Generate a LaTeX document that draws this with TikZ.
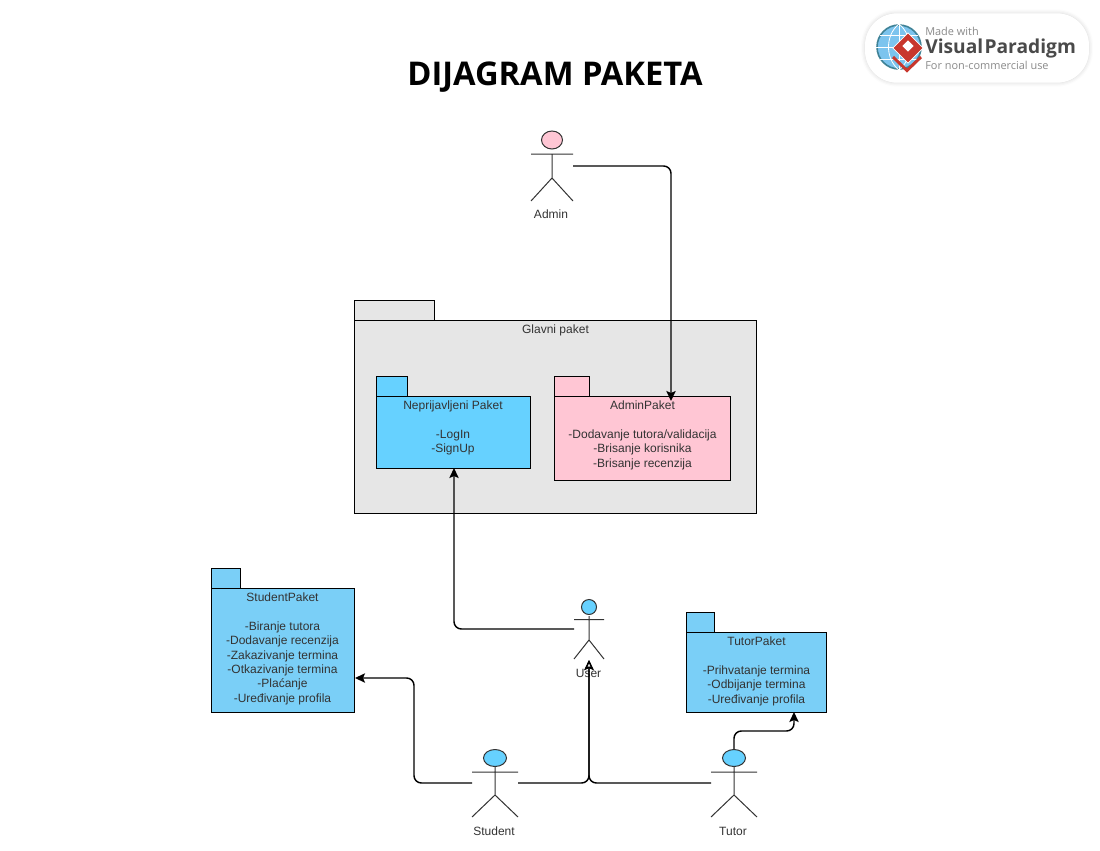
\documentclass[tikz,border=0pt]{standalone}
\usepackage{fontspec}
\setmainfont{Liberation Sans}
\newfontfamily\titlefont{Open Sans}
\newfontfamily\badgefont{Open Sans}
\usetikzlibrary{arrows.meta,shadows.blur,shapes.geometric}
\definecolor{grayfill}{HTML}{E6E6E6}
\definecolor{skyfill}{HTML}{66D1FF}
\definecolor{pinkfill}{HTML}{FFC6D4}
\definecolor{paleblue}{HTML}{7ACFF7}
\definecolor{inkgray}{HTML}{333333}
\definecolor{vpgrey}{HTML}{8A8A8A}
\definecolor{vpdark}{HTML}{4A4A4A}
\definecolor{vpred}{HTML}{C8372D}
\definecolor{vpblue}{HTML}{7CC4EE}
\definecolor{vprim}{HTML}{3F8296}
\tikzset{
  pkg/.style={draw=black,line width=0.75pt,anchor=north west,inner sep=0pt,outer sep=0pt},
  pkgtext/.style={font=\fontsize{9}{10.8}\selectfont,align=center,text=inkgray,anchor=north,inner sep=0pt},
  actorlabel/.style={font=\fontsize{9}{10.8}\selectfont,text=inkgray,inner sep=0pt},
  figure/.style={draw=inkgray,line width=0.75pt},
  link/.style={draw=black,line width=1.1pt,rounded corners=5.5pt,-{Stealth[length=7.5pt,width=7pt,inset=1.5pt]}},
  hollowlink/.style={draw=black,line width=1.1pt,rounded corners=5.5pt,-{Stealth[length=7.5pt,width=7pt,inset=1.5pt,fill=white]}},
}
\begin{document}
\begin{tikzpicture}[x=0.75pt,y=-0.75pt]
\useasboundingbox (0,0) rectangle (1100,850);

% title
\node (title) at (555,77) {\titlefont\bfseries\fontsize{24.5}{28}\selectfont DIJAGRAM PAKETA};

% badge
\node (badge) [draw=none,fill=white,rounded corners=24pt,blur shadow={shadow xshift=0pt,shadow yshift=0pt,shadow blur radius=3pt,shadow opacity=18},minimum width=168pt,minimum height=52pt,inner sep=0pt] at (977,48) {};
\node (globe) [circle,draw=vprim,line width=1.2pt,fill=vpblue,minimum size=33pt,inner sep=0pt] at (899,47) {};
\draw[white,line width=0.6pt] (876,47) -- (922,47) (899,24) -- (899,70) (880,35) -- (918,35) (880,59) -- (918,59);
\draw[white,line width=0.6pt] (899,24) .. controls (885,35) and (885,59) .. (899,70) (899,24) .. controls (913,35) and (913,59) .. (899,70);
\draw[vpred,line width=2.2pt] (893,57) -- (907,70.5) -- (921,57);
\node (vpmark) [diamond,fill=vpred,draw=white,line width=0.5pt,minimum size=23pt,inner sep=0pt] at (908,48) {};
\node (vpinner) [fill=white,minimum size=6pt,inner sep=0pt,rotate=45] at (908,46) {};
\node (vp1) [anchor=west,inner sep=0pt,text=vpgrey] at (925,31) {\badgefont\fontsize{8.2}{10}\selectfont Made with};
\node (vp2) [anchor=west,inner sep=0pt,text=vpdark] at (925,48.5) {\badgefont\bfseries\fontsize{14.4}{16}\selectfont Visual\kern1pt Paradigm};
\node (vp3) [anchor=west,inner sep=0pt,text=vpgrey] at (925,65) {\badgefont\fontsize{8.2}{10}\selectfont For non-commercial use};

% Glavni paket
\node (gtab) [pkg,fill=grayfill,minimum width=60pt,minimum height=15pt] at (354.5,300.5) {};
\node (gbody) [pkg,fill=grayfill,minimum width=301.5pt,minimum height=144.75pt] at (354.5,320.5) {};
\node (gtext) [pkgtext] at (555.5,325) {Glavni paket};

% Neprijavljeni
\node (ntab) [pkg,fill=skyfill,minimum width=23.25pt,minimum height=15pt] at (376.5,376) {};
\node (nbody) [pkg,fill=skyfill,minimum width=115.5pt,minimum height=54pt] at (376.5,396) {};
\node (ntext) [pkgtext] at (453,400.5) {Neprijavljeni Paket\\[10.8pt]-LogIn\\-SignUp};

% Admin paket
\node (atab) [pkg,fill=pinkfill,minimum width=26.25pt,minimum height=15pt] at (554.5,376) {};
\node (abody) [pkg,fill=pinkfill,minimum width=132pt,minimum height=63pt] at (554.5,396) {};
\node (atext) [pkgtext] at (642.5,400.5) {AdminPaket\\[10.8pt]-Dodavanje tutora/validacija\\-Brisanje korisnika\\-Brisanje recenzija};

% Student paket
\node (stab) [pkg,fill=paleblue,minimum width=21.75pt,minimum height=15pt] at (211.5,568) {};
\node (sbody) [pkg,fill=paleblue,minimum width=107.25pt,minimum height=93pt] at (211.5,588) {};
\node (stext) [pkgtext] at (282.5,592.5) {StudentPaket\\[10.8pt]-Biranje tutora\\-Dodavanje recenzija\\-Zakazivanje termina\\-Otkazivanje termina\\-Plaćanje\\-Uređivanje profila};

% Tutor paket
\node (ttab) [pkg,fill=paleblue,minimum width=21pt,minimum height=15pt] at (686.5,612) {};
\node (tbody) [pkg,fill=paleblue,minimum width=105pt,minimum height=60pt] at (686.5,632) {};
\node (ttext) [pkgtext] at (756.5,636.5) {TutorPaket\\[10.8pt]-Prihvatanje termina\\-Odbijanje termina\\-Uređivanje profila};

% Admin actor
\draw[figure] (552,154) -- (552,178) (531,154) -- (573,154) (531,201) -- (552,178) -- (573,201);
\draw[figure,fill=pinkfill] (552,140) ellipse [x radius=10.5,y radius=9];
\node (adminlabel) [actorlabel] at (551,214) {Admin};
\coordinate (adminport) at (573,166);

% User actor
\draw[figure] (589,616) -- (589,640) (574,619.5) -- (604,619.5) (574,659) -- (589,640) -- (604,659);
\draw[figure,fill=skyfill] (589,607) ellipse [x radius=7.5,y radius=7.5];
\node (userlabel) [actorlabel] at (588.5,673) {User};
\coordinate (userport) at (574,629);
\coordinate (userfoot) at (589,660);

% Student actor
\draw[figure] (495,767) -- (495,795) (472,772) -- (518,772) (472,817) -- (495,795) -- (518,817);
\draw[figure,fill=skyfill] (495,758) ellipse [x radius=11.5,y radius=8.5];
\node (studentlabel) [actorlabel] at (494,831) {Student};
\coordinate (studentleft) at (472,783);
\coordinate (studentright) at (518,783);

% Tutor actor
\draw[figure] (734,767) -- (734,795) (711,772) -- (757,772) (711,817) -- (734,795) -- (757,817);
\draw[figure,fill=skyfill] (734,758) ellipse [x radius=11.5,y radius=8.5];
\node (tutorlabel) [actorlabel] at (733,831) {Tutor};
\coordinate (tutorleft) at (711,783);
\coordinate (tutortop) at (734,749);

% connectors
\coordinate (admintarget) at (671,401);
\draw[link] (adminport) -- (671,166) -- (admintarget);
\coordinate (ntarget) at (454,468);
\draw[link] (userport) -- (454,629) -- (ntarget);
\coordinate (starget) at (355,678);
\draw[link] (studentleft) -- (414,783) -- (414,678) -- (starget);
\draw[hollowlink] (studentright) -- (589,783) -- (userfoot);
\draw[hollowlink] (tutorleft) -- (589,783) -- (userfoot);
\coordinate (ttarget) at (794,712);
\draw[link] (tutortop) -- (734,731) -- (794,731) -- (ttarget);
\end{tikzpicture}
\end{document}
